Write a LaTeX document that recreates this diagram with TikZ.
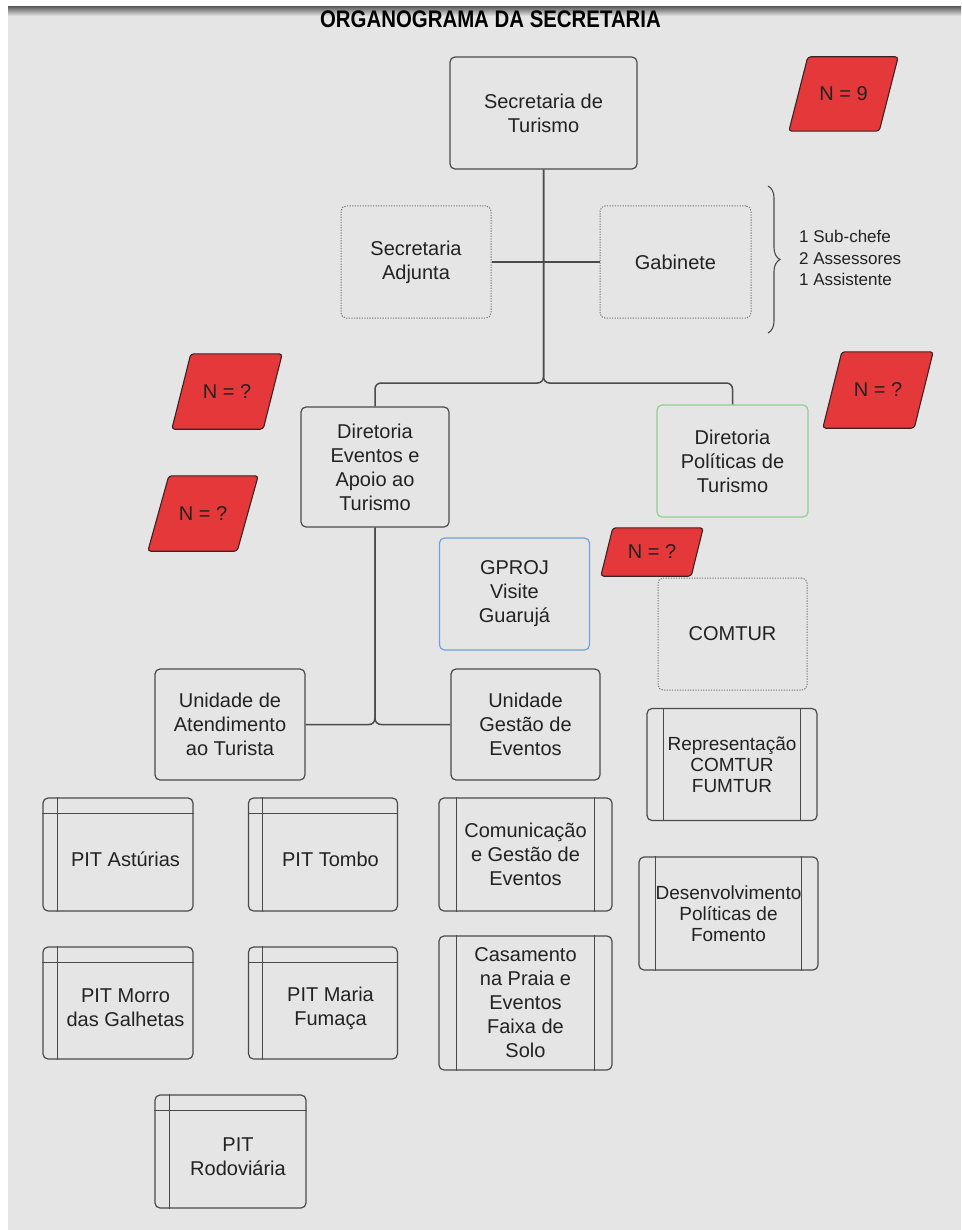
\documentclass[tikz,border=0pt]{standalone}
\usepackage{fontspec}
\setmainfont{Liberation Sans}
\usetikzlibrary{decorations.pathreplacing,calc}
\definecolor{pagebg}{HTML}{E5E5E5}
\definecolor{edge}{HTML}{4A4A4A}
\definecolor{dotedge}{HTML}{7A7A7A}
\definecolor{tagred}{HTML}{E5383B}
\definecolor{tagedge}{HTML}{3A2222}
\definecolor{greenedge}{HTML}{90CF90}
\definecolor{blueedge}{HTML}{6FA2DD}
\definecolor{ink}{HTML}{222222}

\tikzset{
  unit/.style={draw=edge, line width=1.2, rounded corners=5, inner sep=0,
    text=ink, align=center, font=\fontsize{20}{24}\selectfont},
  dotunit/.style={unit, draw=dotedge, line width=1, dash pattern=on 1.3pt off 1.3pt},
  plain/.style={draw=none, inner sep=0, text=ink, align=center,
    font=\fontsize{20}{24}\selectfont},
  smallplain/.style={plain, font=\fontsize{19}{21}\selectfont},
  conn/.style={draw=edge, line width=1.5, rounded corners=6},
  innerline/.style={draw=edge, line width=1.1},
  tag/.style={fill=tagred, draw=tagedge, line width=1.1, rounded corners=3},
}

% red slanted tag: name, centre x, centre y, width, height, slant, label
\newcommand\redtag[7]{%
  \node[inner sep=0, minimum width=#4, minimum height=#5] (#1) at (#2,#3) {};
  \path[tag] ([xshift=#6]#1.north west) -- (#1.north east)
     -- ([xshift=-#6]#1.south east) -- (#1.south west) -- cycle;
  \node[plain] (#1txt) at (#1.center) {#7};
}
% box with a header strip and a side strip: name, cx, cy, w, h, label
\newcommand\pitbox[6]{%
  \node[unit, minimum width=#4, minimum height=#5] (#1) at (#2,#3) {};
  \draw[innerline] ([yshift=-16]#1.north west) -- ([yshift=-16]#1.north east);
  \draw[innerline] ([xshift=15]#1.north west) -- ([xshift=15]#1.south west);
  \node[plain] (#1txt) at ($(#1.center)+(7.5,5)$) {#6};
}
% box with two side strips: name, cx, cy, w, h, inset, label style, label
\newcommand\procbox[8]{%
  \node[unit, minimum width=#4, minimum height=#5] (#1) at (#2,#3) {};
  \draw[innerline] ([xshift=#6]#1.north west) -- ([xshift=#6]#1.south west);
  \draw[innerline] ([xshift=-#6]#1.north east) -- ([xshift=-#6]#1.south east);
  \node[#7] (#1txt) at (#1.center) {#8};
}

\begin{document}
\begin{tikzpicture}[x=1pt, y=-1pt]
\useasboundingbox (0,0) rectangle (961,1230);
% page
\fill[white] (0,0) rectangle (961,1230);
\fill[pagebg] (8,7) rectangle (961,1230);
\shade[top color=black!60, bottom color=pagebg] (8,7) rectangle (961,16);

% title
\node[plain, font=\fontsize{24}{26}\selectfont\bfseries, text=black] (title) at (490.5,19)
  {\scalebox{0.85}[1]{ORGANOGRAMA DA SECRETARIA}};

% top level
\node[unit, minimum width=187, minimum height=112] (sec) at (543.5,113) {Secretaria de\\Turismo};
\redtag{tagnine}{843.5}{94}{109}{74}{19}{N = 9}

\node[dotunit, minimum width=150, minimum height=112] (adj) at (416,262) {Secretaria\\Adjunta};
\node[dotunit, minimum width=151, minimum height=112] (gab) at (675.5,262) {Gabinete};
\draw[decorate, decoration={brace, amplitude=12}, draw=edge, line width=1.1]
  (768,186) -- (768,333);
\node[plain, anchor=west, align=left, font=\fontsize{17}{21.5}\selectfont] (staff) at (799,258)
  {1 Sub-chefe\\2 Assessores\\1 Assistente};

% directorates
\node[unit, minimum width=148, minimum height=120] (dirE) at (375,467)
  {Diretoria\\Eventos e\\Apoio ao\\Turismo};
\node[unit, draw=greenedge, minimum width=151, minimum height=112] (dirP) at (732.5,461)
  {Diretoria\\Políticas de\\Turismo};
\redtag{tagA}{227}{391.5}{110}{75}{19}{N = ?}
\redtag{tagB}{878}{390}{110}{76}{19}{N = ?}
\redtag{tagC}{203}{513.5}{110}{75}{21}{N = ?}
\redtag{tagD}{652}{552}{102}{48}{12}{N = ?}

\node[unit, draw=blueedge, minimum width=150, minimum height=112] (gproj) at (514.5,594)
  {GPROJ\\Visite\\Guarujá};
\node[dotunit, minimum width=149, minimum height=112] (comtur) at (732.5,634) {COMTUR};

% units
\node[unit, minimum width=150, minimum height=111] (unA) at (230,724.5)
  {Unidade de\\Atendimento\\ao Turista};
\node[unit, minimum width=149, minimum height=111] (unG) at (525.5,724.5)
  {Unidade\\Gestão de\\Eventos};

% tourist information points
\pitbox{pitA}{118}{854.5}{150}{113}{PIT Astúrias}
\pitbox{pitT}{323}{854.5}{149}{113}{PIT Tombo}
\pitbox{pitM}{118}{1003}{150}{112}{PIT Morro\\das Galhetas}
\pitbox{pitF}{323}{1003}{149}{112}{PIT Maria\\Fumaça}
\pitbox{pitR}{230.5}{1151.5}{151}{113}{PIT\\Rodoviária}

% event processes
\procbox{comun}{525.5}{854.5}{173}{113}{18}{plain}{Comunicação\\e Gestão de\\Eventos}
\procbox{casam}{525.5}{1003}{173}{134}{18}{plain}{Casamento\\na Praia e\\Eventos\\Faixa de\\Solo}

% policy processes
\procbox{repr}{732}{764.5}{170}{112}{17}{smallplain}{Representação\\COMTUR\\FUMTUR}
\procbox{desenv}{728.5}{913.5}{179}{113}{17}{smallplain}{Desenvolvimento\\Políticas de\\Fomento}

% connectors
\coordinate (hub) at (sec.south |- 0,383);
\draw[conn] (sec.south) -- (hub) -| (dirE.north);
\draw[conn] (sec.south) -- (hub) -| (dirP.north);
\draw[conn, rounded corners=0] (adj.east) -- (gab.west);
\fill[edge] (sec.south |- adj.east) circle (1.6);

\coordinate (foot) at (dirE.south |- unA.east);
\draw[conn] (dirE.south) -- (foot) -- (unA.east);
\draw[conn] (dirE.south) -- (foot) -- (unG.west);
\end{tikzpicture}
\end{document}
